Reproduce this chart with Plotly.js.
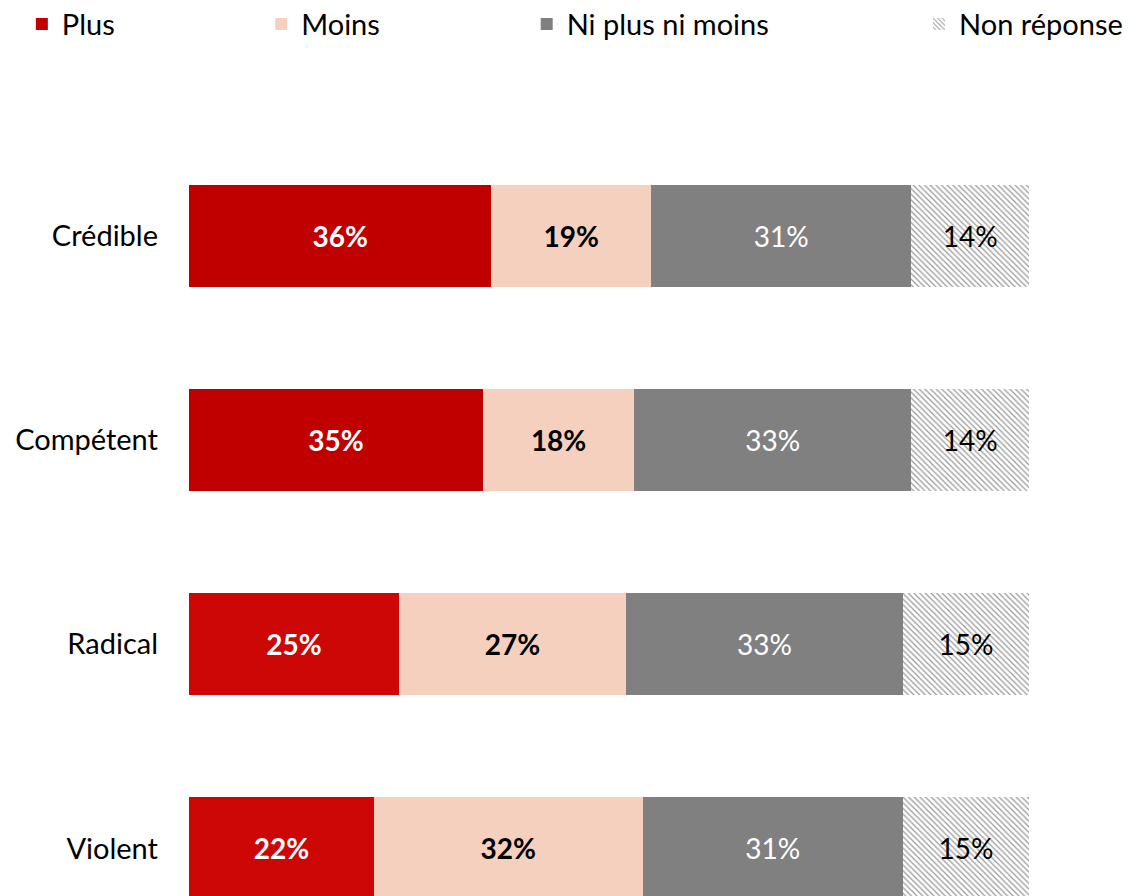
<!DOCTYPE html>
<html>
<head>
<meta charset="utf-8">
<script src="https://cdn.plot.ly/plotly-3.0.1.min.js"></script>
<style>
  html, body { margin: 0; padding: 0; background: #fff; }
  #chart { width: 1128px; height: 896px; }
</style>
</head>
<body>
<div id="chart"></div>
<script>
// categories, top to bottom
const categories = ["Crédible", "Compétent", "Radical", "Violent"];

// shares in %
const plus = [36, 35, 25, 22];
const moins = [19, 18, 27, 32];
const niPlusNiMoins = [31, 33, 33, 31];
const nonReponse = [14, 14, 15, 15];

const seriesNames = ["Plus", "Moins", "Ni plus ni moins", "Non réponse"];

const FONT = "Lato, 'Open Sans', sans-serif";

// common settings for every stacked segment
function segment(values, name, extra) {
    return Object.assign({
        type: "bar",
        orientation: "h",
        x: values,
        y: categories,
        name: name,
        width: 0.5,
        texttemplate: "%{x}%",
        textposition: "inside",
        insidetextanchor: "middle",
        textangle: 0,
        constraintext: "none",
        hoverinfo: "skip"
    }, extra);
}

const traces = [
    segment(plus, seriesNames[0], {
        marker: { color: ["#C00000", "#C00000", "#CD0606", "#CD0606"] },
        textfont: { family: FONT, size: 28, color: "#ffffff", weight: "bold" },
        legend: "legend"
    }),
    segment(moins, seriesNames[1], {
        marker: { color: "#F5D0BF" },
        textfont: { family: FONT, size: 28, color: "#000000", weight: "bold" },
        legend: "legend2"
    }),
    segment(niPlusNiMoins, seriesNames[2], {
        marker: { color: "#808080" },
        textfont: { family: FONT, size: 28, color: "#ffffff" },
        legend: "legend3"
    }),
    segment(nonReponse, seriesNames[3], {
        marker: {
            color: "#ffffff",
            pattern: { shape: "\\", fgcolor: "#999999", bgcolor: "#ffffff", size: 4, solidity: 0.3 }
        },
        textfont: { family: FONT, size: 28, color: "#000000" },
        legend: "legend4"
    })
];

// one legend per series so each entry sits where the original has it
function legendAt(x) {
    return {
        x: x, y: 0.973, yref: "container",
        xanchor: "left", yanchor: "middle",
        orientation: "h",
        font: { family: FONT, size: 29, color: "#000000" },
        bgcolor: "rgba(0,0,0,0)",
        itemwidth: 30
    };
}

const layout = {
    width: 1128,
    height: 896,
    margin: { l: 189, r: 99, t: 134, b: 0 },
    paper_bgcolor: "#ffffff",
    plot_bgcolor: "#ffffff",
    barmode: "stack",
    showlegend: true,
    legend: legendAt(-0.199),
    legend2: legendAt(0.086),
    legend3: legendAt(0.402),
    legend4: legendAt(0.870),
    xaxis: {
        range: [0, 100],
        visible: false,
        fixedrange: true
    },
    yaxis: {
        type: "category",
        range: [3.233, -0.5],
        showgrid: false,
        zeroline: false,
        showline: false,
        ticks: "",
        ticklabelstandoff: 30,
        tickfont: { family: FONT, size: 29, color: "#000000" },
        fixedrange: true
    },
    font: { family: FONT }
};

Plotly.newPlot("chart", traces, layout, { displayModeBar: false, staticPlot: true });
</script>
</body>
</html>
